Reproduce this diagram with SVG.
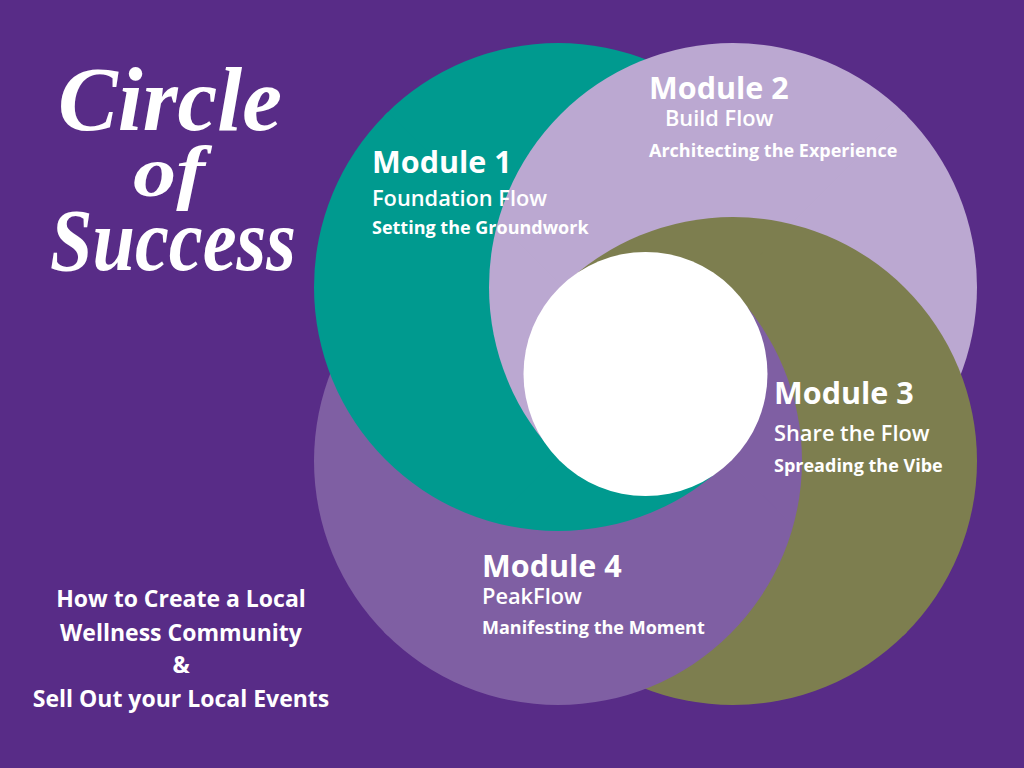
<svg xmlns="http://www.w3.org/2000/svg" xmlns:xlink="http://www.w3.org/1999/xlink" width="1024" height="768" viewBox="0 0 1024 768">
  <style>
    .teal { fill: #009a8f; }
    .lav { fill: #bba8d1; }
    .olive { fill: #7d7e4f; }
    .mpur { fill: #7f5fa3; }
    .hub { fill: #ffffff; }
    .mk { fill: #ffffff; }
    .t { fill: #ffffff; font-family: "Open Sans", "Noto Sans", "Liberation Sans", sans-serif; }
    .h { font-size: 30.5px; font-weight: 700; }
    .s { font-size: 21.8px; font-weight: 600; }
    .g { font-size: 18px; font-weight: 700; }
    .b { font-size: 23px; font-weight: 700; text-anchor: middle; }
    .script { fill: #ffffff; font-family: "Liberation Serif", "DejaVu Serif", serif; font-style: italic; }
  </style>
  <defs>
    <circle id="c1" cx="558" cy="287" r="244"/>
    <circle id="c2" cx="733" cy="287" r="244"/>
    <circle id="c3" cx="733" cy="461" r="244"/>
    <circle id="c4" cx="558" cy="461" r="244"/>
    <mask id="w-up" maskUnits="userSpaceOnUse" x="0" y="0" width="1024" height="768"><polygon class="mk" points="645.5,378 -454.5,-722 1745.5,-722"/></mask>
    <mask id="w-left" maskUnits="userSpaceOnUse" x="0" y="0" width="1024" height="768"><polygon class="mk" points="649.5,374 -450.5,-726 -450.5,1474"/></mask>
    <mask id="w-down" maskUnits="userSpaceOnUse" x="0" y="0" width="1024" height="768"><polygon class="mk" points="645.5,370 -454.5,1470 1745.5,1470"/></mask>
    <mask id="w-right" maskUnits="userSpaceOnUse" x="0" y="0" width="1024" height="768"><polygon class="mk" points="641.5,374 1741.5,-726 1741.5,1474"/></mask>
  </defs>

  <rect x="0" y="0" width="1024" height="768" fill="#582c87"/>

  <g id="pinwheel">
    <g id="wedge-up" mask="url(#w-up)">
      <use xlink:href="#c4" class="mpur"/>
      <use xlink:href="#c1" class="teal"/>
      <use xlink:href="#c2" class="lav"/>
      <use xlink:href="#c3" class="olive"/>
    </g>
    <g id="wedge-left" mask="url(#w-left)">
      <use xlink:href="#c3" class="olive"/>
      <use xlink:href="#c4" class="mpur"/>
      <use xlink:href="#c1" class="teal"/>
      <use xlink:href="#c2" class="lav"/>
    </g>
    <g id="wedge-down" mask="url(#w-down)">
      <use xlink:href="#c2" class="lav"/>
      <use xlink:href="#c3" class="olive"/>
      <use xlink:href="#c4" class="mpur"/>
      <use xlink:href="#c1" class="teal"/>
    </g>
    <g id="wedge-right" mask="url(#w-right)">
      <use xlink:href="#c1" class="teal"/>
      <use xlink:href="#c2" class="lav"/>
      <use xlink:href="#c3" class="olive"/>
      <use xlink:href="#c4" class="mpur"/>
    </g>
    <circle id="hub" class="hub" cx="645.5" cy="374" r="122"/>
  </g>

  <g id="title">
    <text class="script" x="58" y="130" font-size="92" font-weight="700" textLength="224" lengthAdjust="spacingAndGlyphs">Circle</text>
    <text class="script" x="133" y="196" font-size="72" font-weight="700" textLength="72" lengthAdjust="spacingAndGlyphs">of</text>
    <text class="script" x="50" y="270" font-size="88" font-weight="700" textLength="246" lengthAdjust="spacingAndGlyphs">Success</text>
  </g>

  <g id="module-1">
    <text class="t h" x="372" y="173">Module 1</text>
    <text class="t s" x="372" y="206">Foundation Flow</text>
    <text class="t g" x="372" y="234">Setting the Groundwork</text>
  </g>
  <g id="module-2">
    <text class="t h" x="649" y="99">Module 2</text>
    <text class="t s" x="665" y="126">Build Flow</text>
    <text class="t g" x="649" y="157">Architecting the Experience</text>
  </g>
  <g id="module-3">
    <text class="t h" x="774" y="404">Module 3</text>
    <text class="t s" x="774" y="441">Share the Flow</text>
    <text class="t g" x="774" y="472">Spreading the Vibe</text>
  </g>
  <g id="module-4">
    <text class="t h" x="482" y="577">Module 4</text>
    <text class="t s" x="482" y="604">PeakFlow</text>
    <text class="t g" x="482" y="634">Manifesting the Moment</text>
  </g>

  <g id="subtitle">
    <text class="t b" x="181" y="607">How to Create a Local</text>
    <text class="t b" x="181" y="641">Wellness Community</text>
    <text class="t b" x="181" y="673">&amp;</text>
    <text class="t b" x="181" y="707">Sell Out your Local Events</text>
  </g>
</svg>
